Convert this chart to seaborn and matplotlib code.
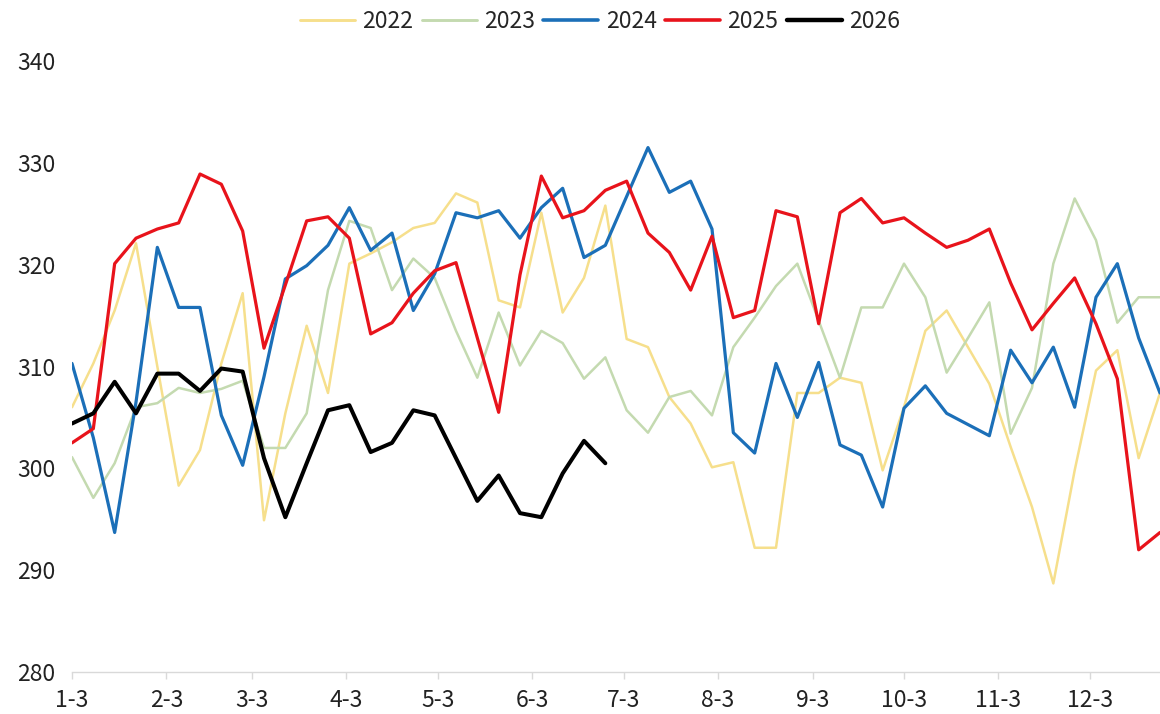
import matplotlib
matplotlib.use("Agg")
import matplotlib.pyplot as plt
from matplotlib.lines import Line2D
import numpy as np
import pandas as pd
import seaborn as sns

# Weekly readings, one value per week starting 3 January
years = ["2022", "2023", "2024", "2025", "2026"]

v2022 = [306.0, 310.3, 315.5, 322.1, 310.0, 298.3, 301.8, 310.3, 317.2, 294.9,
         305.4, 314.0, 307.4, 320.1, 321.1, 322.2, 323.6, 324.1, 327.0, 326.1,
         316.5, 315.8, 325.1, 315.3, 318.7, 325.8, 312.7, 311.9, 307.0, 304.4,
         300.1, 300.6, 292.2, 292.2, 307.4, 307.4, 308.9, 308.4, 299.8, 306.0,
         313.5, 315.5, 311.9, 308.3, 302.1, 296.2, 288.7, 299.8, 309.6, 311.6,
         301.0, 307.4]
v2023 = [301.1, 297.1, 300.5, 306.0, 306.4, 307.9, 307.4, 307.8, 308.6, 302.0,
         302.0, 305.4, 317.5, 324.3, 323.6, 317.5, 320.6, 318.7, 313.5, 308.9,
         315.3, 310.1, 313.5, 312.3, 308.8, 310.9, 305.7, 303.5, 307.0, 307.6,
         305.2, 311.9, 314.8, 317.9, 320.1, 314.5, 308.9, 315.8, 315.8, 320.1,
         316.8, 309.4, 312.8, 316.3, 303.4, 307.9, 320.1, 326.5, 322.4, 314.3,
         316.8, 316.8]
v2024 = [310.3, 303.0, 293.7, 306.5, 321.7, 315.8, 315.8, 305.2, 300.3, 309.0,
         318.6, 319.9, 321.9, 325.6, 321.4, 323.1, 315.5, 319.1, 325.1, 324.6,
         325.3, 322.6, 325.6, 327.5, 320.7, 321.9, 326.7, 331.5, 327.1, 328.2,
         323.5, 303.5, 301.5, 310.3, 305.0, 310.4, 302.3, 301.3, 296.2, 305.9,
         308.1, 305.4, 304.3, 303.2, 311.6, 308.4, 311.9, 306.0, 316.8, 320.1,
         312.8, 307.4]
v2025 = [302.5, 303.9, 320.1, 322.6, 323.5, 324.1, 328.9, 327.9, 323.3, 311.8,
         318.0, 324.3, 324.7, 322.6, 313.2, 314.3, 317.2, 319.4, 320.2, 312.8,
         305.5, 319.0, 328.7, 324.6, 325.3, 327.3, 328.2, 323.1, 321.2, 317.5,
         322.8, 314.8, 315.5, 325.3, 324.7, 314.2, 325.1, 326.5, 324.1, 324.6,
         323.1, 321.7, 322.4, 323.5, 318.2, 313.6, 316.2, 318.7, 314.2, 308.8,
         292.0, 293.7]
v2026 = [304.4, 305.4, 308.5, 305.4, 309.3, 309.3, 307.6, 309.8, 309.5, 301.0,
         295.2, 300.5, 305.7, 306.2, 301.6, 302.5, 305.7, 305.2, 301.0, 296.8,
         299.3, 295.6, 295.2, 299.5, 302.7, 300.5]

month_labels = ["1-3", "2-3", "3-3", "4-3", "5-3", "6-3",
                "7-3", "8-3", "9-3", "10-3", "11-3", "12-3"]
y_ticks = [280, 290, 300, 310, 320, 330, 340]

series = dict(zip(years, [v2022, v2023, v2024, v2025, v2026]))
colors = {"2022": "#f6df8c", "2023": "#c4dab0", "2024": "#1b6fb8",
          "2025": "#e8131b", "2026": "#000000"}
widths = {"2022": 1.8, "2023": 1.8, "2024": 2.3, "2025": 2.3, "2026": 2.9}

# Common calendar year so every season lines up on one date axis
weeks = pd.date_range("2001-01-03", periods=52, freq="7D")
frames = []
for yr in years:
    vals = series[yr]
    frames.append(pd.DataFrame({"date": weeks[:len(vals)], "value": vals, "year": yr}))
df = pd.concat(frames, ignore_index=True)

sns.set_theme(style="white")
plt.rcParams["font.family"] = ["Noto Sans CJK SC", "DejaVu Sans"]

fig = plt.figure(figsize=(11.6, 7.14), dpi=100)
ax = fig.add_axes([72 / 1160, 1 - 672 / 714, 1 - 72 / 1160, (672 - 61) / 714])

for yr in years:
    sub = df[df["year"] == yr]
    sns.lineplot(data=sub, x="date", y="value", ax=ax, color=colors[yr],
                 linewidth=widths[yr], legend=False, zorder=2)

ax.set_xlim(weeks[0], weeks[-1])
ax.set_ylim(280, 340)
ax.set_yticks(y_ticks)
ax.set_yticklabels([str(t) for t in y_ticks])
# the 3rd of every month
tick_dates = pd.date_range("2001-01-01", periods=12, freq="MS") + pd.Timedelta(days=2)
ax.set_xticks(tick_dates)
ax.set_xticklabels(month_labels)
ax.set_xlabel("")
ax.set_ylabel("")
ax.grid(False)

for side in ["top", "right", "left"]:
    ax.spines[side].set_visible(False)
ax.spines["bottom"].set_color("#d9d9d9")
ax.spines["bottom"].set_linewidth(1.0)

ax.tick_params(axis="y", length=0, pad=12, labelsize=16.5, labelcolor="#222222")
ax.tick_params(axis="x", length=5, width=1.0, color="#d9d9d9", direction="out",
               pad=7, labelsize=16.5, labelcolor="#222222")
ax.xaxis.set_tick_params(bottom=True)

handles = [Line2D([0], [0], color=colors[yr], linewidth=widths[yr] + 0.3) for yr in years]
fig.legend(handles, years, loc="center", bbox_to_anchor=(600 / 1160, 1 - 22 / 714),
           ncol=5, frameon=False, fontsize=16.5, handlelength=2.4,
           handletextpad=0.32, columnspacing=0.36, borderaxespad=0)

fig.savefig("out.png", dpi=100)
